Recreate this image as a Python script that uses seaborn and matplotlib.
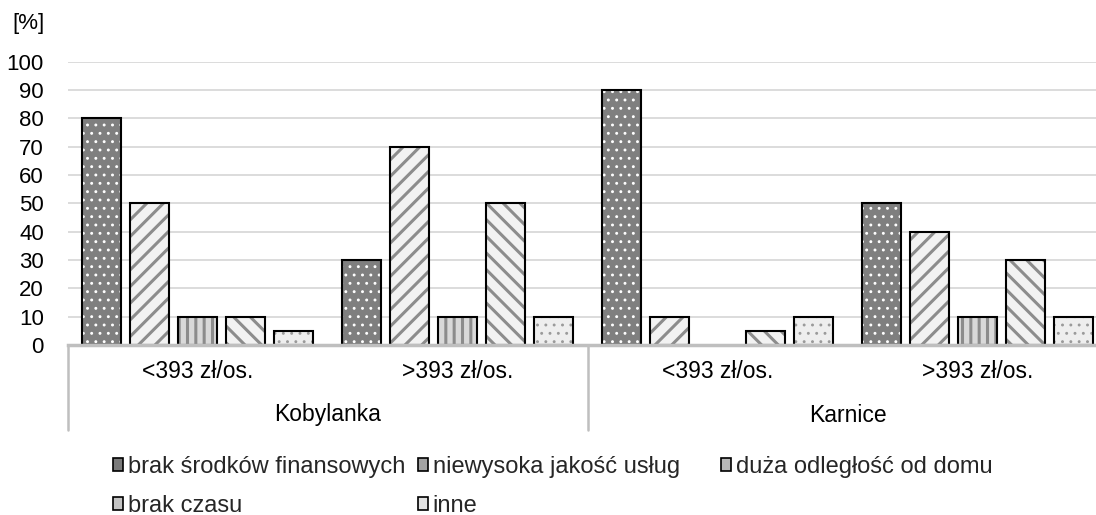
import numpy as np
import pandas as pd
import matplotlib
matplotlib.use("Agg")
import matplotlib.pyplot as plt
import matplotlib.transforms as mtransforms
from matplotlib.patches import Patch
from matplotlib.colors import to_rgba
import seaborn as sns

# ---------------- data ----------------
locations = ["Kobylanka", "Kobylanka", "Karnice", "Karnice"]
income = ["<393 zł/os.", ">393 zł/os.", "<393 zł/os.", ">393 zł/os."]
group_names = ["Kobylanka", "Karnice"]
causes = ["brak środków finansowych", "niewysoka jakość usług",
          "duża odległość od domu", "brak czasu", "inne"]
brak_srodkow = [80, 30, 90, 50]
niewysoka_jakosc = [50, 70, 10, 40]
duza_odleglosc = [10, 10, 0, 10]
brak_czasu = [10, 50, 5, 30]
inne = [5, 10, 10, 10]
yticks = list(range(0, 101, 10))
unit_label = "[%]"

sns.set_theme(style="white")
plt.rcParams['font.family'] = ['Liberation Sans', 'DejaVu Sans']
plt.rcParams['hatch.linewidth'] = 2.0

series = [brak_srodkow, niewysoka_jakosc, duza_odleglosc, brak_czasu, inne]
keys = [f"{l}|{i}|{n}" for n, (l, i) in enumerate(zip(locations, income))]
rows = []
for c, vals in zip(causes, series):
    for k, v in zip(keys, vals):
        rows.append({"key": k, "cause": c, "value": v})
df = pd.DataFrame(rows)

styles = [
    dict(face="#7f7f7f", hatch="..", hc="#ffffff", hlw=0.9, leg="#7a7a7a"),
    dict(face="#f2f2f2", hatch="//", hc="#8c8c8c", hlw=2.2, leg="#a3a3a3"),
    dict(face="#d9d9d9", hatch="||", hc="#8c8c8c", hlw=2.2, leg="#b8b8b8"),
    dict(face="#f2f2f2", hatch="\\\\", hc="#8c8c8c", hlw=2.2, leg="#c4c4c4"),
    dict(face="#eeeeee", hatch="..", hc="#9a9a9a", hlw=0.9, leg="#e2e2e2"),
]


def style_patch(p, st, lw=1.5):
    p.set_facecolor(st["face"])
    p.set_edgecolor("black")
    p.set_linewidth(lw)
    p.set_hatch(st["hatch"])
    if hasattr(p, "set_hatchcolor"):
        p.set_hatchcolor(st["hc"])
    else:
        p._hatch_color = to_rgba(st["hc"])
    if hasattr(p, "set_hatch_linewidth"):
        p.set_hatch_linewidth(st["hlw"])


W, H = 1096, 515
fig = plt.figure(figsize=(W / 100, H / 100), dpi=100)
ax = fig.add_axes([67.5 / W, 1 - 345 / H, 1040 / W, 283.4 / H])

sns.barplot(data=df, x="key", y="value", hue="cause", order=keys,
            hue_order=causes, width=0.923, gap=0.1875, ax=ax,
            legend=False, errorbar=None)

for cont, st in zip(ax.containers, styles):
    for p in cont.patches:
        style_patch(p, st)
        if p.get_height() == 0:
            p.set_visible(False)

ax.set_xlim(-0.5, 3.5)
ax.set_ylim(0, 100)
ax.set_yticks(yticks)
ax.set_xticks(range(len(income)))
ax.set_xticklabels(income)
ax.set_xlabel("")
ax.set_ylabel("")
ax.yaxis.grid(True, color="#d9d9d9", lw=1.3)
ax.xaxis.grid(False)
ax.set_axisbelow(True)
for s in ["left", "right", "top"]:
    ax.spines[s].set_visible(False)
ax.spines["bottom"].set_color("#bfbfbf")
ax.spines["bottom"].set_linewidth(2.5)
ax.tick_params(axis="y", length=0, labelsize=16, pad=17, labelcolor="black")
ax.tick_params(axis="x", length=0, labelsize=16.5, pad=11, labelcolor="black")

trans = mtransforms.blended_transform_factory(ax.transData, ax.transAxes)
for gi, name in enumerate(group_names):
    ax.text(gi * 2 + 0.5, (345 - 415) / 283.4, name, transform=trans,
            ha="center", va="center", fontsize=16.5, color="black")
for xs in [-0.5, 1.5, 3.5]:
    ax.plot([xs, xs], [0, -(430 - 345) / 283.4], transform=trans,
            color="#bfbfbf", lw=1.8, clip_on=False)

fig.text(12 / W, 1 - 23 / H, unit_label, ha="left", va="center",
         fontsize=16, color="black")

# legend, laid out in three columns as in the reference
handles = []
for c, st in zip(causes, styles):
    hp = Patch(facecolor=st["leg"], edgecolor="black", lw=1.2, label=c)
    handles.append(hp)

col_x = [113, 418, 721]
col_items = [[0, 3], [1, 4], [2]]
for x0, items in zip(col_x, col_items):
    fig.legend(handles=[handles[i] for i in items],
               loc="upper left", bbox_to_anchor=(x0 / W, 1 - 456 / H),
               frameon=False, fontsize=17, borderpad=0,
               handlelength=0.42, handleheight=0.42, handletextpad=0.2,
               labelspacing=0.72, borderaxespad=0)

fig.savefig("out.png", dpi=100)
